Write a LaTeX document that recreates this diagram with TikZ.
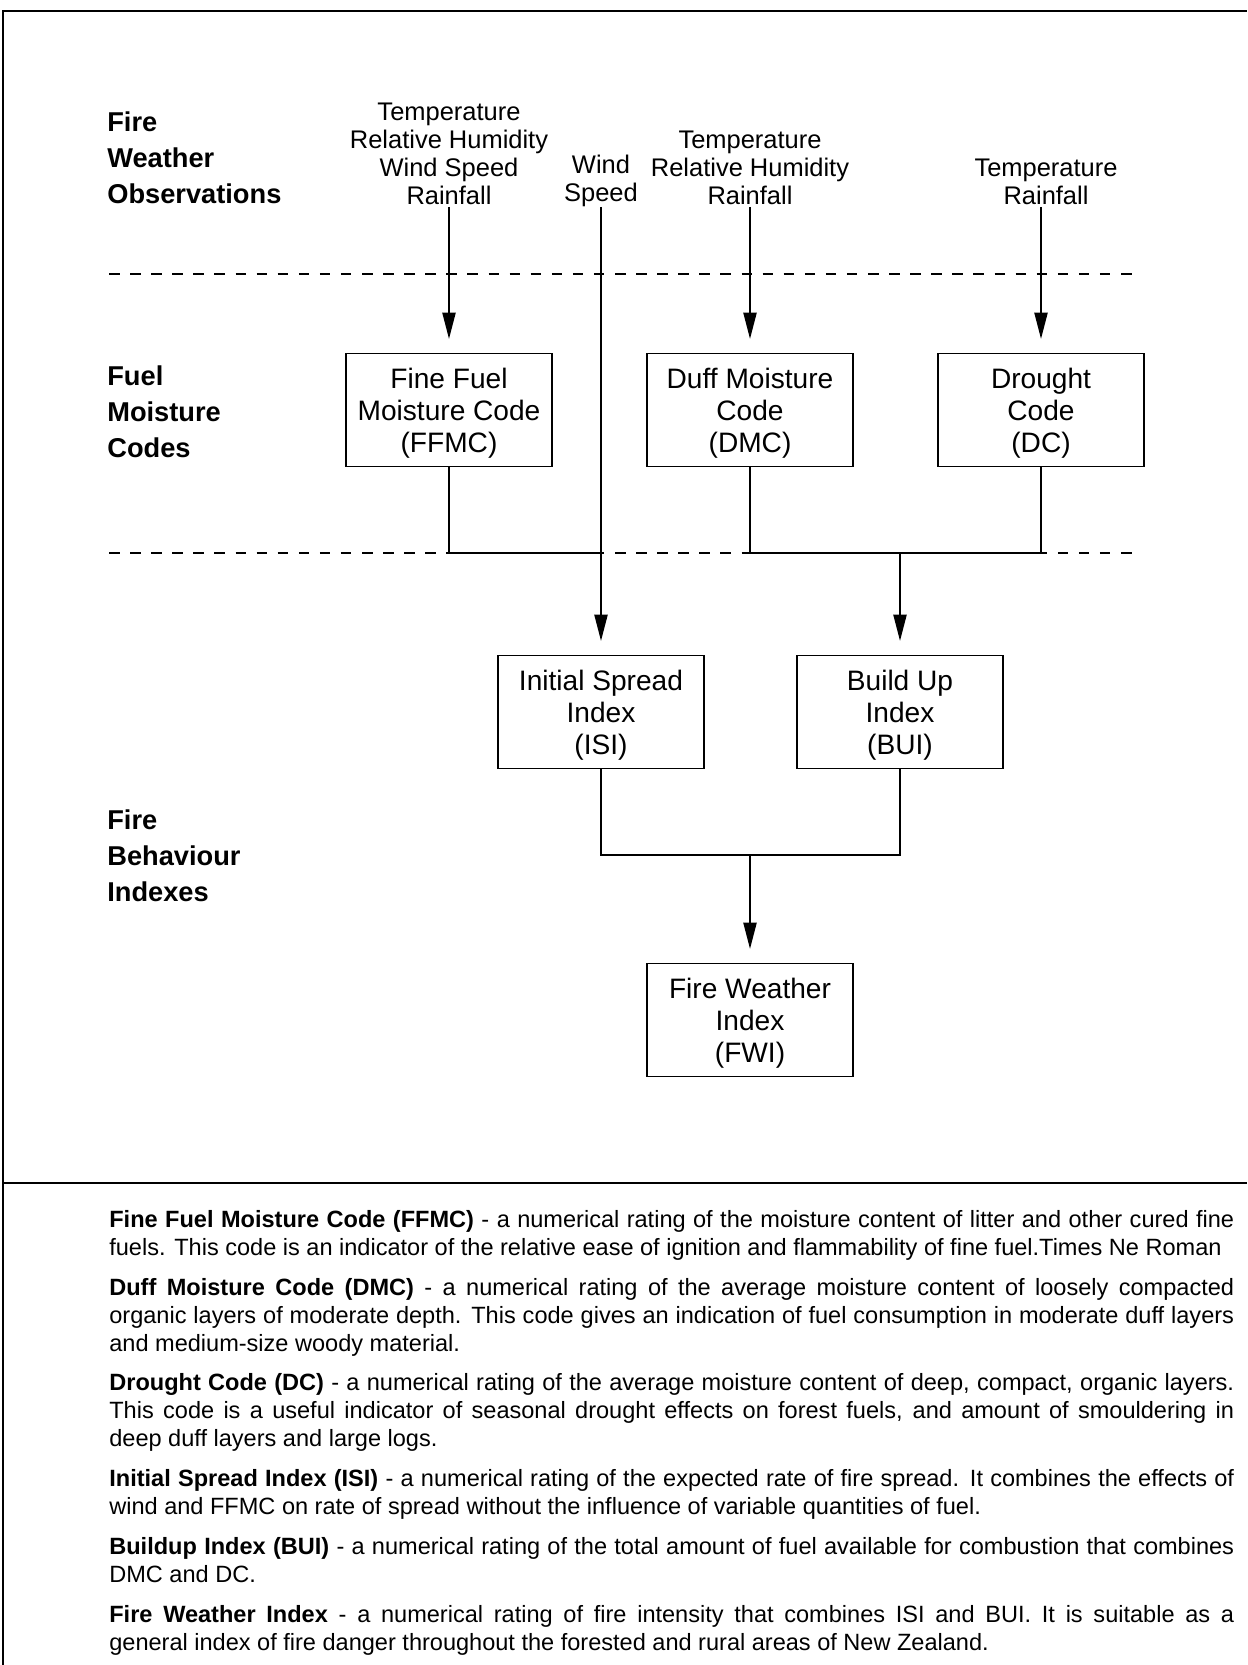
\documentclass[tikz,border=0pt]{standalone}
\usepackage{fontspec}
\setmainfont{Liberation Sans}
\usetikzlibrary{arrows.meta}

\tikzset{
  codebox/.style={draw, line width=1pt, rectangle, minimum width=4.12cm, minimum height=2.26cm,
    align=center, inner sep=0pt, text depth=0pt, font=\fontsize{16}{18.3}\selectfont},
  obslabel/.style={anchor=south, align=center, inner xsep=0pt, inner ysep=1.2pt,
    font=\fontsize{14.5}{15.9}\selectfont},
  rowlabel/.style={anchor=south west, align=left, inner sep=0pt, text depth=0pt,
    font=\bfseries\fontsize{15.5}{20.4}\selectfont},
  link/.style={line width=1pt},
  feed/.style={link, -{Triangle[length=15pt,width=7.5pt]}, shorten >=7.8pt},
  levelline/.style={dash pattern=on 6pt off 6pt, line width=1.2pt},
  frame/.style={line width=1.3pt},
}

\begin{document}
\begin{tikzpicture}[x=0.02cm, y=-0.02cm]
\useasboundingbox (0,0) rectangle (1247,1665);

% outer frame and split
\draw[frame] (3,1665) -- (3,11) -- (1247,11);
\draw[frame] (3,1183) -- (1247,1183);

% level separators
\draw[levelline] (109,274) -- (1139,274);
\draw[levelline] (109,553) -- (1139,553);

% row titles
\node[rowlabel] (rowobs) at (107,204) {Fire\\Weather\\Observations};
\node[rowlabel] (rowfuel) at (107,458) {Fuel\\Moisture\\Codes};
\node[rowlabel] (rowfire) at (107,902) {Fire\\Behaviour\\Indexes};

% observations
\node[obslabel] (obsffmc) at (449,207) {Temperature\\Relative Humidity\\Wind Speed\\Rainfall};
\node[obslabel, inner ysep=0pt] (obswind) at (601,207) {Wind\\Speed};
\node[obslabel] (obsdmc) at (750,207) {Temperature\\Relative Humidity\\Rainfall};
\node[obslabel] (obsdc) at (1046,207) {Temperature\\Rainfall};

% codes and indexes
\node[codebox] (ffmc) at (449,410) {Fine Fuel\\Moisture Code\\(FFMC)};
\node[codebox] (dmc) at (750,410) {Duff Moisture\\Code\\(DMC)};
\node[codebox] (dc) at (1041,410) {Drought\\Code\\(DC)};
\node[codebox] (isi) at (601,712) {Initial Spread\\Index\\(ISI)};
\node[codebox] (bui) at (900,712) {Build Up\\Index\\(BUI)};
\node[codebox] (fwi) at (750,1020) {Fire Weather\\Index\\(FWI)};

\coordinate (ffmcjoin) at (601,553);
\coordinate (buijoin) at (900,553);
\coordinate (fwijoin) at (750,855);

\draw[feed] (obsffmc.south) -- (ffmc.north);
\draw[feed] (obswind.south) -- (isi.north);
\draw[feed] (obsdmc.south) -- (dmc.north);
\draw[feed] (dc.north |- obsdc.south) -- (dc.north);
\draw[link] (ffmc.south) |- (ffmcjoin);
\draw[link] (dmc.south) |- (buijoin) -| (dc.south);
\draw[feed] (buijoin) -- (bui.north);
\draw[link] (isi.south) |- (fwijoin) -| (bui.south);
\draw[feed] (fwijoin) -- (fwi.north);

% definitions
\node[anchor=north west, inner sep=0pt, text width=22.5cm, align=justify,
  font=\fontsize{13.4}{15.9}\selectfont] (notes) at (109,1210) {%
\setlength{\parskip}{6.8pt}\hyphenpenalty=10000\emergencystretch=2em
\textbf{Fine Fuel Moisture Code (FFMC)} - a numerical rating of the moisture content of litter and other cured fine\linebreak
fuels. This code is an indicator of the relative ease of ignition and flammability of fine fuel.Times Ne Roman\par
\textbf{Duff Moisture Code (DMC)} - a numerical rating of the average moisture content of loosely compacted\linebreak
organic layers of moderate depth. This code gives an indication of fuel consumption in moderate duff layers\linebreak
and medium-size woody material.\par
\textbf{Drought Code (DC)} - a numerical rating of the average moisture content of deep, compact, organic layers.\linebreak
This code is a useful indicator of seasonal drought effects on forest fuels, and amount of smouldering in\linebreak
deep duff layers and large logs.\par
\textbf{Initial Spread Index (ISI)} - a numerical rating of the expected rate of fire spread. It combines the effects of\linebreak
wind and FFMC on rate of spread without the influence of variable quantities of fuel.\par
\textbf{Buildup Index (BUI)} - a numerical rating of the total amount of fuel available for combustion that combines\linebreak
DMC and DC.\par
\textbf{Fire Weather Index} - a numerical rating of fire intensity that combines ISI and BUI. It is suitable as a\linebreak
general index of fire danger throughout the forested and rural areas of New Zealand.\par};
\end{tikzpicture}
\end{document}
